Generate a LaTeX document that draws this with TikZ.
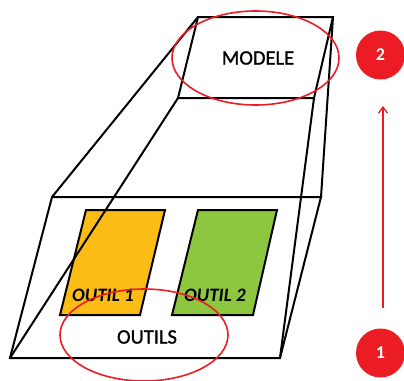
\documentclass[tikz,border=0pt]{standalone}
\usepackage{fontspec}
\setmainfont{Carlito}
\newfontfamily\heavyfont[FakeBold=1.2]{Carlito}
\usetikzlibrary{arrows.meta}
\definecolor{myred}{HTML}{EC1C24}
\definecolor{myyellow}{HTML}{FBBC15}
\definecolor{mygreen}{HTML}{8DC63F}
\tikzset{
  edge/.style={draw=black,line width=2pt,line join=miter},
  tool/.style={edge},
  ring/.style={draw=myred,line width=1.6pt},
  badge/.style={circle,fill=myred,minimum size=49pt,inner sep=0pt,text=white,font=\bfseries\fontsize{18}{18}\selectfont},
  label/.style={font=\heavyfont\fontsize{20.5}{20.5}\selectfont,inner sep=0pt,text=black},
  toollabel/.style={font=\bfseries\itshape\fontsize{19}{19}\selectfont,inner sep=0pt,text=black}
}
\begin{document}
\begin{tikzpicture}[x=1pt,y=-1pt]
\useasboundingbox (0,0) rectangle (404,380);
% top plane
\coordinate (TA) at (198,17);
\coordinate (TB) at (333,17);
\coordinate (TC) at (314,98);
\coordinate (TD) at (178,98);
% bottom plane
\coordinate (BA) at (52,197);
\coordinate (BB) at (321,197);
\coordinate (BC) at (280,358);
\coordinate (BD) at (10,358);
% tool fills
\path[tool,fill=myyellow] (86,210) -- (165,210) -- (140,315) -- (60,315) -- cycle;
\path[tool,fill=mygreen] (198,210) -- (277,210) -- (253,315) -- (172,315) -- cycle;
% planes and connecting edges
\draw[edge] (TA) -- (TB) -- (TC) -- (TD) -- cycle;
\draw[edge] (BA) -- (BB) -- (BC) -- (BD) -- cycle;
\draw[edge] (TA) -- (BA);
\draw[edge] (TD) -- (BD);
\draw[edge] (TB) -- (BB);
\draw[edge] (TC) -- (BC);
% labels
\node[toollabel] (o1) at (103,295) {OUTIL 1};
\node[toollabel] (o2) at (215,295) {OUTIL 2};
\node[label] (outils) at (147,337) {OUTILS};
\node[label] (modele) at (258,58) {MODELE};
% red ellipses
\draw[ring] (255.5,58) ellipse [x radius=83.5,y radius=47];
\draw[ring] (144,335) ellipse [x radius=84,y radius=46];
% badges
\node[badge] (n2) at (380.5,55) {2};
\node[badge] (n1) at (380.5,353) {1};
\coordinate (aS) at (383,308);
\coordinate (aE) at (383,106);
\draw[myred,line width=1.3pt,-{Straight Barb[length=6pt,width=9pt]}] (aS) -- (aE);
\end{tikzpicture}
\end{document}
